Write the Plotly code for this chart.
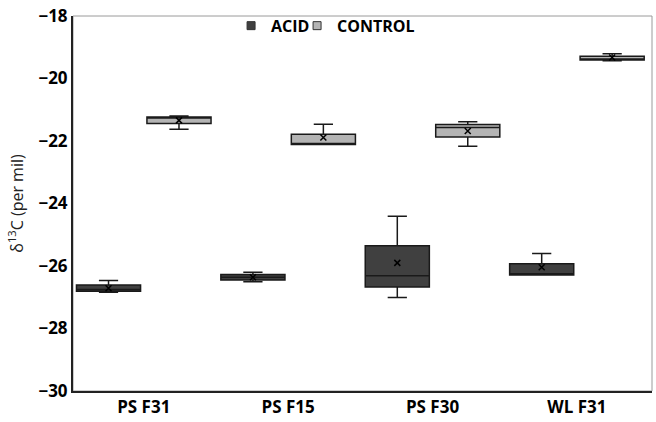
import plotly.graph_objects as go

# sites on the x axis
sites = ["PS F31", "PS F15", "PS F30", "WL F31"]

# box statistics (delta 13C, per mil)
acid_lower = [-26.84, -26.50, -27.01, -26.29]
acid_q1 = [-26.81, -26.45, -26.67, -26.29]
acid_median = [-26.75, -26.36, -26.31, -26.25]
acid_q3 = [-26.61, -26.27, -25.35, -25.93]
acid_upper = [-26.46, -26.20, -24.41, -25.60]
acid_mean = [-26.71, -26.36, -25.90, -26.04]

control_lower = [-21.62, -22.11, -22.17, -19.43]
control_q1 = [-21.44, -22.11, -21.87, -19.41]
control_median = [-21.25, -22.08, -21.57, -19.38]
control_q3 = [-21.23, -21.78, -21.47, -19.29]
control_upper = [-21.20, -21.46, -21.38, -19.21]
control_mean = [-21.34, -21.89, -21.68, -19.33]

groups = [
    ("ACID", "#404040", -0.244, "legend", acid_lower, acid_q1, acid_median, acid_q3, acid_upper, acid_mean),
    ("CONTROL", "#b4b4b4", 0.244, "legend2", control_lower, control_q1, control_median, control_q3, control_upper, control_mean),
]

fig = go.Figure()
pos = list(range(len(sites)))

for name, color, off, leg, lo, q1, med, q3, up, mean in groups:
    xs = [p + off for p in pos]
    fig.add_trace(go.Box(
        x=xs, lowerfence=lo, q1=q1, median=med, q3=q3, upperfence=up,
        width=0.444, whiskerwidth=0.3,
        fillcolor=color, line=dict(color="#1a1a1a", width=1.5),
        name=name, showlegend=False, hoverinfo="skip",
    ))
    fig.add_trace(go.Scatter(
        x=xs, y=mean, mode="markers", showlegend=False,
        marker=dict(symbol="x-thin", size=6, line=dict(color="black", width=1.5)),
    ))
    # legend entry as small square, one legend per group so spacing can be set
    fig.add_trace(go.Scatter(
        x=[None], y=[None], mode="markers", name=name, legend=leg,
        marker=dict(symbol="square", size=8, color=color, line=dict(color="#333333", width=1)),
    ))

leg_style = dict(orientation="h", xanchor="left", y=0.974, yanchor="middle",
                 font=dict(size=16, family="Open Sans", weight="bold"),
                 itemwidth=30, bgcolor="rgba(0,0,0,0)")

fig.update_layout(
    width=656, height=422,
    margin=dict(l=73, r=4, t=8, b=29),
    paper_bgcolor="white", plot_bgcolor="white",
    font=dict(family="Open Sans", color="black"),
    legend=dict(x=0.273, **leg_style),
    legend2=dict(x=0.387, **leg_style),
    shapes=[dict(type="rect", xref="paper", yref="paper", x0=0, x1=1, y0=0, y1=1,
                 line=dict(color="#9a9a9a", width=1), layer="below")],
)

fig.update_xaxes(
    range=[-0.49, 3.52], tickvals=pos, ticktext=sites,
    showgrid=False, zeroline=False, showline=True, linecolor="#222222", linewidth=2,
    ticks="", tickfont=dict(size=17, weight="bold"),
)
fig.update_yaxes(
    range=[-30, -18], dtick=2, showgrid=False, zeroline=False,
    showline=True, linecolor="#222222", linewidth=2, ticks="",
    tickfont=dict(size=17, weight="bold"), ticklabeloverflow="allow",
    title=dict(text="δ<sup>13</sup>C (per mil)", font=dict(size=16, color="#222222"), standoff=11),
)

fig.write_html("out.html", config={"displayModeBar": False},
               post_script="document.body.style.margin='0';")
